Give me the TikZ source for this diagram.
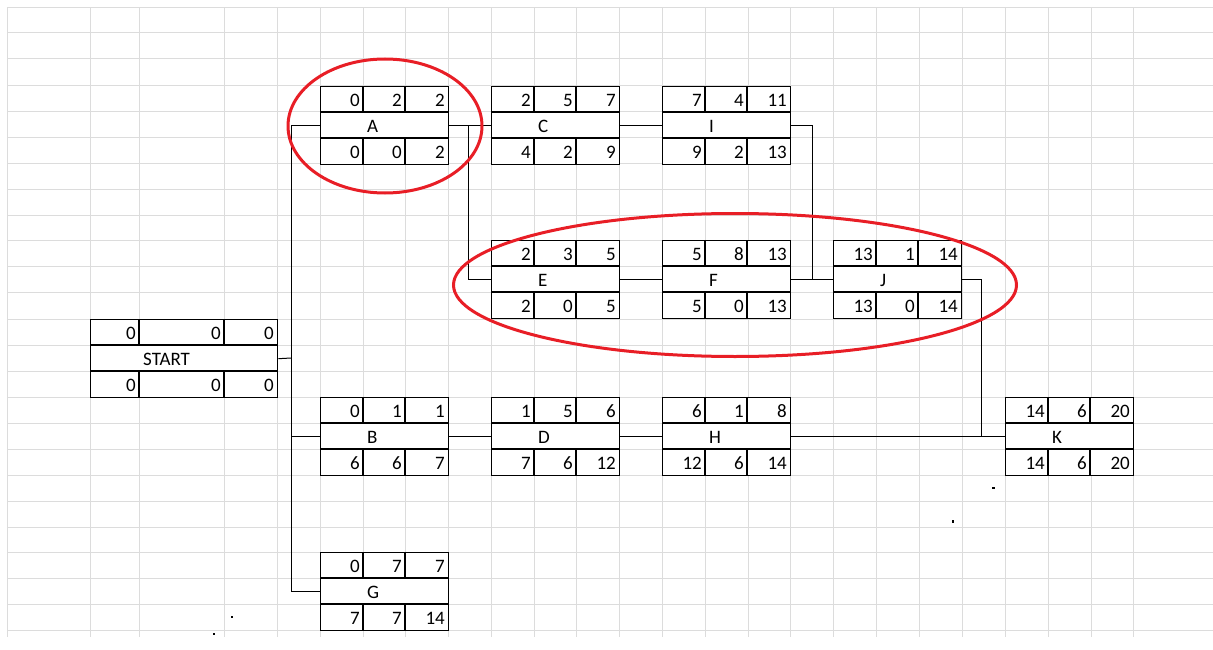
\documentclass[tikz,border=0pt]{standalone}
\usepackage{fontspec}
\newfontfamily\calibri{Carlito}
\usepackage{xcolor}
\usepackage{tikz}
\usetikzlibrary{calc, positioning, shapes.geometric}
\definecolor{gridgray}{RGB}{220,220,220}
\definecolor{ringred}{RGB}{232,30,38}
\tikzstyle{box}=[rectangle, draw, fill=white, line width=1.4pt, minimum width=128pt, minimum height=78pt, inner sep=0pt, anchor=north west]
\tikzstyle{num}=[inner sep=0pt, anchor=east]
\tikzstyle{lbl}=[inner sep=0pt, anchor=west]
\tikzstyle{link}=[line width=1pt]
\tikzstyle{ring}=[ellipse, draw=ringred, line width=3pt, inner sep=0pt]

% activity box: name, left, top, ES, D, EF, LS, float, LF
\newcommand{\activity}[9]{%
  \node[box] (#1) at (#2,#3) {};
  \draw[line width=1.4pt] (#2,#3+26) -- ++(128,0) (#2,#3+52) -- ++(128,0)
    (#2+43,#3) -- ++(0,26) (#2+85,#3) -- ++(0,26)
    (#2+43,#3+52) -- ++(0,26) (#2+85,#3+52) -- ++(0,26);
  \node[num] (#1-es) at (#2+40,#3+14) {#4};
  \node[num] (#1-d) at (#2+82,#3+14) {#5};
  \node[num] (#1-ef) at (#2+125,#3+14) {#6};
  \node[lbl] (#1-name) at (#2+47,#3+40) {#1};
  \node[num] (#1-ls) at (#2+40,#3+66) {#7};
  \node[num] (#1-fl) at (#2+82,#3+66) {#8};
  \node[num] (#1-lf) at (#2+125,#3+66) {#9};
}

\begin{document}
\begin{tikzpicture}[x=1pt, y=-1pt]

\tikzset{every node/.style={font=\calibri\fontsize{19pt}{21pt}\selectfont}}

\useasboundingbox (0,0) rectangle (1213,650);

% sheet grid
\foreach \gy in {8,33,59,86,112,138,164,189,215,240,266,292,319,345,371,397,423,449,475,501,527,552,578,604,630}
  \draw[gridgray, line width=1pt] (7,\gy) -- (1213,\gy);
\foreach \gx in {7,90,139,224,277,320,363,405,448,491,534,576,619,662,705,748,790,833,876,919,962,1005,1048,1091,1133}
  \draw[gridgray, line width=1pt] (\gx,8) -- (\gx,637);

% start box
\node[box, minimum width=187pt] (START) at (90,319) {};
\draw[line width=1.4pt] (90,345) -- ++(187,0) (90,371) -- ++(187,0)
  (139,319) -- ++(0,26) (224,319) -- ++(0,26)
  (139,371) -- ++(0,26) (224,371) -- ++(0,26);
\node[num] (START-es) at (136,333) {0};
\node[num] (START-d) at (221,333) {0};
\node[num] (START-ef) at (274,333) {0};
\node[lbl] (START-name) at (143,359) {START};
\node[num] (START-ls) at (136,385) {0};
\node[num] (START-fl) at (221,385) {0};
\node[num] (START-lf) at (274,385) {0};

% activities
\activity{A}{320}{86}{0}{2}{2}{0}{0}{2}
\activity{C}{491}{86}{2}{5}{7}{4}{2}{9}
\activity{I}{662}{86}{7}{4}{11}{9}{2}{13}
\activity{E}{491}{240}{2}{3}{5}{2}{0}{5}
\activity{F}{662}{240}{5}{8}{13}{5}{0}{13}
\activity{J}{833}{240}{13}{1}{14}{13}{0}{14}
\activity{B}{320}{397}{0}{1}{1}{6}{6}{7}
\activity{D}{491}{397}{1}{5}{6}{7}{6}{12}
\activity{H}{662}{397}{6}{1}{8}{12}{6}{14}
\activity{K}{1005}{397}{14}{6}{20}{14}{6}{20}
\activity{G}{320}{552}{0}{7}{7}{7}{7}{14}

% links
\coordinate (split) at (291,358);
\coordinate (adrop) at ($(A.east)+(19,0)$);
\coordinate (idrop) at ($(I.east)+(21,0)$);
\coordinate (jdrop) at ($(J.east)+(19,0)$);

\draw[link] (START.east) -- (split); % start -> trunk
\draw[link] (A.west) -| (split); % trunk -> A
\draw[link] (split) |- (G.west); % trunk -> G
\draw[link] (split |- B.west) -- (B.west); % trunk -> B
\draw[link] (A.east) -- (C.west); % A -> C
\draw[link] (adrop) |- (E.west); % A -> E
\draw[link] (C.east) -- (I.west); % C -> I
\draw[link] (I.east) -- (idrop) |- (J.west); % I -> J
\draw[link] (E.east) -- (F.west); % E -> F
\draw[link] (F.east) -- (J.west); % F -> J
\draw[link] (J.east) -- (jdrop) |- (K.west); % J -> K
\draw[link] (B.east) -- (D.west); % B -> D
\draw[link] (D.east) -- (H.west); % D -> H
\draw[link] (H.east) -- (K.west); % H -> K

% critical path rings
\node[ring, minimum width=194pt, minimum height=134pt] (ringA) at (385,126) {};
\node[ring, minimum width=563pt, minimum height=143pt] (ringEFJ) at (735,285) {};

% stray marks
\fill (992,487) rectangle ++(3,1.5);
\fill (952,520) rectangle ++(1.5,3);
\fill (231,616) rectangle ++(1.5,2);
\fill (213,633) rectangle ++(2,1.5);

\end{tikzpicture}
\end{document}
